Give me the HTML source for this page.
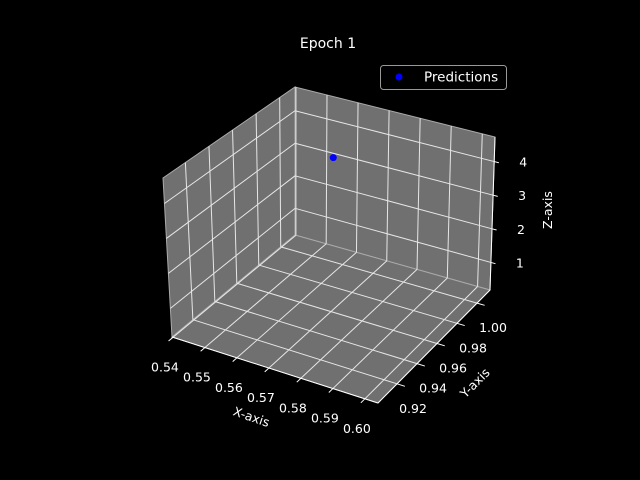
<!DOCTYPE html>
<html><head><meta charset="utf-8">
<style>
html,body{margin:0;padding:0;background:#000;}
svg{display:block;font-family:"DejaVu Sans","Liberation Sans",sans-serif;}
</style></head>
<body>
<svg id="chart" width="640" height="480" viewBox="0 0 640 480" xmlns="http://www.w3.org/2000/svg">
<rect width="640" height="480" fill="#000"/>
<text x="328" y="48" fill="#fff" font-size="14" text-anchor="middle">Epoch 1</text>
<g id="plot"></g>
<g>
<rect x="380.5" y="65.5" width="126" height="24" rx="3" fill="#000" stroke="#999"/>
<circle cx="399" cy="77" r="3.5" fill="#0000ff"/>
<text x="424" y="81.5" fill="#fff" font-size="13.5">Predictions</text>
</g>
<text x="0" y="0" fill="#fff" font-size="12.5" text-anchor="middle" transform="translate(250,421) rotate(19)">X-axis</text>
<text x="0" y="0" fill="#fff" font-size="12.5" text-anchor="middle" transform="translate(478,386) rotate(-45)">Y-axis</text>
<text x="0" y="0" fill="#fff" font-size="12.5" text-anchor="middle" transform="translate(552,210) rotate(-90)">Z-axis</text>
</svg>
<script>
const xTicks=[0.54,0.55,0.56,0.57,0.58,0.59,0.60];
const xTickLabels=["0.54","0.55","0.56","0.57","0.58","0.59","0.60"];
const yTicks=[0.92,0.94,0.96,0.98,1.00];
const yTickLabels=["0.92","0.94","0.96","0.98","1.00"];
const zTicks=[1,2,3,4];
const zTickLabels=["1","2","3","4"];
const ptX=[0.570];
const ptY=[0.962];
const ptZ=[4.70];
const XL=[0.5397,0.6041],YL=[0.901,1.013],ZL=[0.18,4.73];
const C={"000":[172,337],"100":[378,403],"010":[295,235],"110":[490,290],"001":[163,178],"011":[295,87],"111":[495,137],"101":[383,250]};
function P(x,y,z){
 const u=(x-XL[0])/(XL[1]-XL[0]),v=(y-YL[0])/(YL[1]-YL[0]),w=(z-ZL[0])/(ZL[1]-ZL[0]);
 let r=[0,0];
 for(const i of [0,1])for(const j of [0,1])for(const k of [0,1]){
  const wt=(i?u:1-u)*(j?v:1-v)*(k?w:1-w);const c=C[""+i+j+k];
  r[0]+=wt*c[0];r[1]+=wt*c[1];}
 return r;}
const NS="http://www.w3.org/2000/svg",g=document.getElementById('plot');
function el(t,a){const e=document.createElementNS(NS,t);for(const k in a)e.setAttribute(k,a[k]);g.appendChild(e);return e;}
function poly(pts,name){const e=el('polygon',{points:pts.map(p=>p.join(',')).join(' '),fill:'#707070',stroke:'#aaa','stroke-width':1});

}
function line(a,b,name,col,w){const e=el('line',{x1:a[0],y1:a[1],x2:b[0],y2:b[1],stroke:col||'#e6e6e6','stroke-width':w||1});

}
function txt(p,s,name,anchor){const e=el('text',{x:p[0],y:p[1],fill:'#fff','font-size':12.5,'text-anchor':anchor||'middle'});e.textContent=s;

}
const [x0,x1]=XL,[y0,y1]=YL,[z0,z1]=ZL;
poly([P(x0,y0,z0),P(x0,y1,z0),P(x0,y1,z1),P(x0,y0,z1)],'left-pane');
poly([P(x0,y1,z0),P(x1,y1,z0),P(x1,y1,z1),P(x0,y1,z1)],'back-pane');
poly([P(x0,y0,z0),P(x1,y0,z0),P(x1,y1,z0),P(x0,y1,z0)],'floor-pane');
xTicks.forEach(t=>{line(P(t,y0,z0),P(t,y1,z0),'x-grid-floor');line(P(t,y1,z0),P(t,y1,z1),'x-grid-back');});
yTicks.forEach(t=>{line(P(x0,t,z0),P(x1,t,z0),'y-grid-floor');line(P(x0,t,z0),P(x0,t,z1),'y-grid-left');});
zTicks.forEach(t=>{line(P(x0,y0,t),P(x0,y1,t),'z-grid-left');line(P(x0,y1,t),P(x1,y1,t),'z-grid-back');});
line(P(x0,y0,z0),P(x1,y0,z0),'x-axis-line','#fff');
line(P(x1,y0,z0),P(x1,y1,z0),'y-axis-line','#fff');
line(P(x1,y1,z0),P(x1,y1,z1),'z-axis-line','#fff');
xTicks.forEach((t,i)=>{const a=P(t,y0,z0),b=P(t,y0-0.004,z0);line(a,b,'x-tick','#fff');
 txt([a[0]-8,a[1]+34],xTickLabels[i],'x-tick-label');});
yTicks.forEach((t,i)=>{const a=P(x1,t,z0),b=P(x1+0.0025,t,z0);line(a,b,'y-tick','#fff');
 txt([a[0]+16,a[1]+29],yTickLabels[i],'y-tick-label');});
zTicks.forEach((t,i)=>{const a=P(x1,y1,t),b=P(x1+0.0015,y1,t);line(a,b,'z-tick','#fff');
 txt([a[0]+29,a[1]+5],zTickLabels[i],'z-tick-label');});
ptX.forEach((x,i)=>{const p=P(x,ptY[i],ptZ[i]);const c=el('circle',{cx:p[0],cy:p[1],r:3.5,fill:'#0000ff'});

});
</script>
</body></html>
